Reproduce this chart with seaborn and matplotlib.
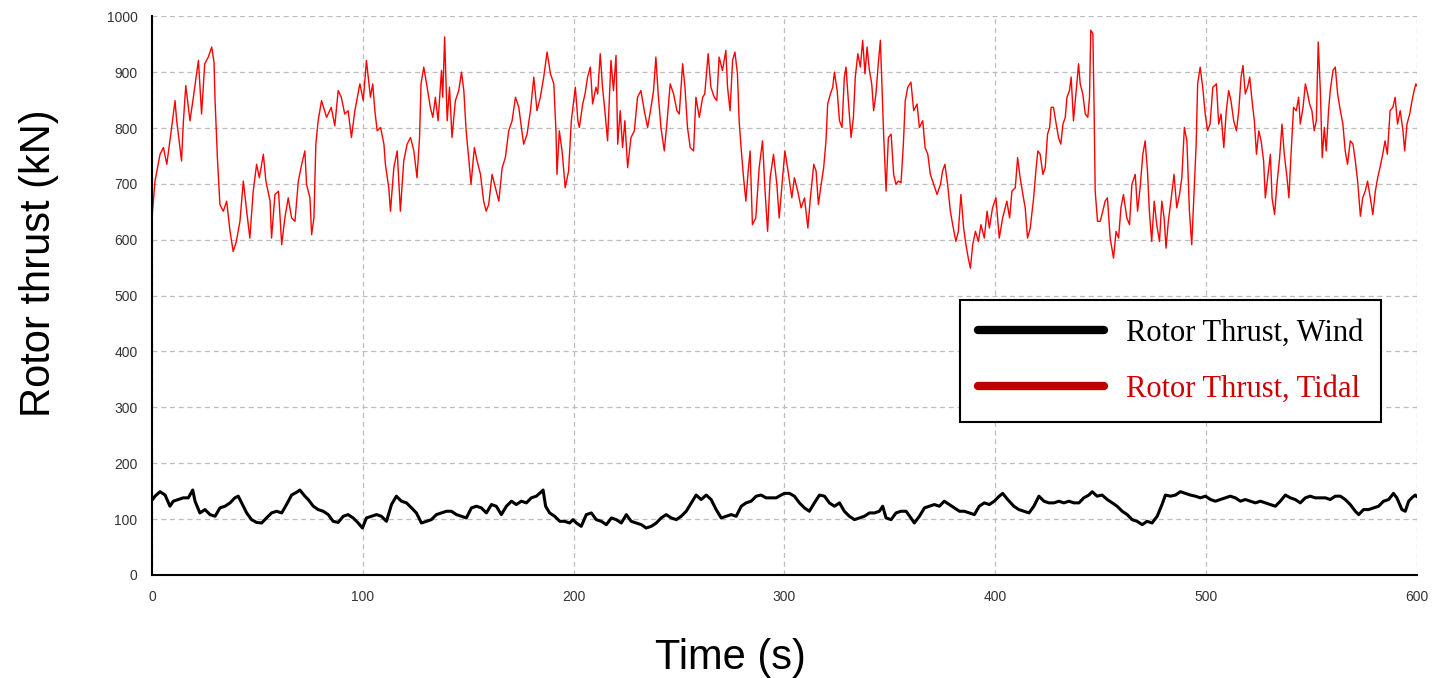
import numpy as np
import pandas as pd
import seaborn as sns
import matplotlib.pyplot as plt
from matplotlib.lines import Line2D

# Valores (tempo em s, empuxo em kN)
tidal_time = [0, 1.4, 3.8, 5.4, 7, 9.3, 10.9, 11.7, 14, 14.8, 16, 18, 19.6, 22, 23.5, 25, 26.7, 28.3, 29.4, 29.9,
              31, 32.2, 33.8, 35.4, 37, 38.5, 40, 41.7, 43.3, 44.9, 46.4, 48, 49.6, 50.9, 52.8, 54, 56, 56.7, 58.3, 60,
              61.5, 63, 64.6, 66.2, 67.8, 69.4, 71, 72.5, 73.3, 74.9, 75.7, 76.8, 77.7, 78.8, 80.4, 82.8, 85, 86.7, 88.3, 89.8,
              91.4, 93, 94.6, 96.2, 98.6, 100.2, 101.7, 103.6, 104.7, 105.7, 106.8, 108.4, 110, 110.7, 112.3, 113.1, 114.7, 116.3, 117.8, 119.4,
              121, 122.6, 124.2, 125.7, 126.9, 127.6, 128.9, 130.5, 132, 133.2, 134.4, 135.7, 137.3, 137.9, 138.8, 140, 141.1, 142.3, 143.9, 145.5,
              146.8, 147.9, 149, 150.2, 151.3, 152.9, 154.2, 155.8, 157.3, 158.5, 159.7, 161.3, 162.9, 164.5, 166.1, 167.6, 169.2, 170.8, 172.4, 174,
              175.2, 176.3, 177.9, 179.5, 181.1, 182.6, 184.2, 185.8, 187.4, 189, 190.6, 191.6, 192.1, 193.2, 194.5, 196, 197.6, 198.9, 200.8, 202,
              202.7, 204.3, 205.4, 206.6, 207.9, 209, 210.6, 211.4, 212.6, 213.7, 214.8, 216.1, 217.7, 218.9, 220.1, 220.9, 222.1, 223.2, 224.3, 225.6,
              227.2, 228.8, 230.3, 231.9, 233.5, 235.1, 236.7, 237.9, 239, 240.1, 241.4, 243, 244.2, 245.8, 247.4, 249, 250.1, 251.7, 252.8, 254,
              255.3, 256.9, 258, 259.6, 261.2, 262.2, 263.8, 265.1, 266.7, 267.9, 269, 270.6, 272.2, 273, 274.2, 275.4, 276.5, 277.7, 278.5, 279.3,
              280.6, 281.7, 282.8, 283.7, 284.8, 286.4, 288, 289.6, 290.8, 292, 293.2, 294.8, 296.4, 297.5, 299.1, 300.2, 301.7, 303.5, 304.7, 306.3,
              307.9, 309.5, 311.1, 312.3, 313.9, 315, 316.1, 317.4, 318.6, 319.7, 320.5, 321.8, 322.9, 323.7, 325, 326.1, 327.3, 328.4, 329.2, 330.3,
              331.6, 332.7, 333.6, 334.8, 336, 337.1, 338.2, 339.2, 340.3, 341.4, 342.3, 343.4, 344.5, 345.5, 346.1, 347.1, 348.2, 349.3, 350.6, 351.8,
              352.9, 354, 355.3, 356.4, 357.3, 358.5, 360, 361.3, 362.9, 364, 365.6, 366.7, 368, 369.2, 370.8, 372.4, 374, 375, 376.1, 377.4,
              378.7, 379.8, 381.3, 382.5, 383.7, 385, 386.1, 387.2, 388.2, 389.3, 390.6, 392, 393.2, 394.8, 396.1, 397.2, 398.7, 400.3, 401.9, 403.5,
              405.5, 406.8, 407.9, 409.5, 410.6, 411.8, 413.1, 414.2, 415.3, 416.6, 418.2, 419.4, 420.2, 421.3, 422.6, 423.7, 424.8, 425.8, 426.5, 427.6,
              428.9, 430, 431.1, 432.1, 433.2, 434, 435.2, 436, 437.1, 438.4, 439.5, 440.3, 441.5, 442.7, 443.9, 444.7, 445.3, 446.3, 446.9, 447.4,
              448.5, 449.8, 451, 452.1, 453.2, 454.5, 456.1, 457.3, 458.5, 459.6, 460.8, 462.4, 463.7, 464.8, 466.4, 467.5, 468.7, 470, 471.1, 472.2,
              473.1, 474.2, 475.4, 476.6, 477.9, 479, 480.1, 481, 482.1, 483.3, 484.8, 486.1, 487.4, 488.5, 489.7, 490.9, 492.1, 493.2, 494.3, 495.3,
              496, 497.2, 498.4, 499.6, 500.7, 501.9, 503.2, 504.9, 506, 507.1, 508.4, 509.6, 510.7, 511.8, 513.1, 514.4, 515.5, 516.6, 517.5, 518.6,
              519.7, 520.7, 521.8, 522.9, 523.9, 525, 526.1, 527.3, 528.1, 529.2, 530.5, 531.3, 532.5, 533.6, 534.9, 536, 537.1, 538.4, 539.3, 540.3,
              541.5, 542.8, 543.9, 544.7, 546, 547.1, 548.2, 549.1, 550.2, 551.3, 552.3, 553.2, 554.2, 555.1, 556.1, 557, 558.1, 558.9, 560.2, 561.3,
              562.4, 563.7, 564.9, 566, 567.1, 568.4, 569.7, 570.8, 571.9, 573.2, 574.3, 575.5, 576.6, 577.9, 579.1, 580.3, 581.4, 582.5, 583.8, 584.9,
              586, 587.3, 588.6, 589.7, 590.8, 592.1, 593.4, 594.2, 595.3, 596.6, 597.7, 598.7, 599.5, 600]
tidal_thrust = [640, 705, 753, 765, 735, 801, 849, 813, 741, 807, 876, 813, 855, 921, 825, 915, 927, 945, 918, 849,
                747, 663, 651, 669, 615, 579, 597, 633, 705, 651, 603, 687, 735, 711, 753, 705, 669, 603, 681, 687,
                591, 639, 675, 639, 633, 705, 735, 759, 699, 675, 609, 639, 771, 813, 849, 819, 837, 804, 867, 855,
                825, 831, 783, 831, 879, 849, 921, 855, 879, 831, 795, 801, 771, 735, 693, 651, 729, 759, 651, 741,
                771, 783, 759, 711, 783, 879, 909, 873, 837, 819, 855, 813, 903, 855, 963, 813, 873, 783, 849, 867,
                900, 867, 795, 747, 699, 765, 741, 717, 669, 651, 663, 717, 693, 669, 729, 747, 795, 813, 855, 837,
                801, 771, 789, 831, 891, 831, 855, 891, 936, 897, 879, 795, 717, 795, 759, 693, 723, 813, 873, 813,
                801, 843, 861, 891, 909, 843, 873, 861, 933, 873, 831, 777, 921, 867, 930, 771, 831, 765, 813, 729,
                783, 795, 855, 867, 831, 801, 837, 867, 927, 861, 801, 759, 807, 879, 861, 831, 825, 915, 873, 801,
                765, 759, 855, 819, 855, 861, 933, 873, 855, 849, 927, 903, 939, 873, 831, 921, 936, 897, 813, 771,
                711, 669, 723, 759, 627, 639, 729, 777, 687, 615, 711, 753, 699, 639, 711, 759, 723, 675, 711, 687,
                657, 675, 621, 675, 735, 723, 663, 699, 729, 777, 843, 861, 873, 900, 867, 813, 801, 891, 909, 849,
                783, 819, 891, 933, 909, 957, 897, 945, 903, 879, 831, 861, 915, 957, 891, 783, 687, 783, 789, 717,
                699, 705, 702, 771, 849, 873, 882, 831, 843, 801, 813, 765, 753, 717, 699, 681, 699, 723, 735, 699,
                651, 627, 597, 615, 681, 621, 591, 567, 549, 591, 615, 597, 627, 603, 651, 621, 657, 675, 603, 639,
                669, 639, 687, 693, 747, 711, 681, 657, 603, 621, 675, 729, 759, 753, 717, 729, 789, 801, 837, 837,
                807, 783, 771, 807, 819, 855, 867, 891, 813, 867, 915, 879, 861, 825, 819, 855, 975, 969, 831, 687,
                633, 633, 651, 669, 675, 603, 567, 615, 603, 657, 681, 639, 627, 699, 717, 651, 693, 753, 777, 723,
                651, 597, 669, 627, 597, 669, 639, 585, 633, 669, 717, 657, 681, 711, 801, 777, 651, 591, 687, 771,
                879, 909, 873, 825, 795, 807, 873, 879, 807, 825, 765, 831, 867, 849, 813, 795, 831, 891, 912, 861,
                873, 891, 849, 813, 753, 795, 777, 741, 675, 711, 753, 675, 645, 699, 747, 807, 753, 711, 675, 753,
                837, 831, 855, 807, 837, 879, 861, 843, 831, 795, 813, 954, 867, 747, 801, 759, 831, 867, 903, 909,
                861, 831, 807, 759, 735, 777, 771, 741, 705, 642, 675, 687, 705, 675, 645, 687, 711, 729, 753, 777,
                753, 831, 837, 855, 807, 831, 795, 759, 807, 825, 849, 867, 879, 875]

wind_time = [0.3, 1.4, 3.8, 6.2, 8.5, 10.1, 12.5, 14.8, 17.2, 19.3, 20.4, 22.7, 25.1, 27.5, 29.9, 32.2, 34.6, 37, 39.3, 40.9,
             42.5, 44.9, 47.2, 49.6, 52, 54.3, 56.7, 59.1, 61.5, 63.8, 66.2, 68.6, 70.1, 72.5, 74.1, 76.5, 78.8, 81.2, 83.6, 85.9,
             88.3, 90.7, 93, 95.4, 97.8, 99.8, 101.7, 104.1, 106.5, 108.8, 111.2, 113.6, 115.9, 118.3, 120.7, 123.1, 125.4, 127.8, 130.2, 132.5,
             134.9, 137.3, 139.6, 142, 144.4, 146.8, 149.1, 151.5, 153.9, 156.2, 158.6, 161, 163.3, 165.7, 168.1, 170.5, 172.8, 175.2, 177.6, 179.9,
             182.3, 184.7, 185.5, 186.7, 188.6, 191, 193.4, 195.7, 198.1, 199.7, 201.3, 203.6, 206, 208.4, 210.7, 213.1, 215.5, 217.9, 220.2, 222.6,
             225, 227.3, 229.7, 232.1, 234.4, 236.8, 239.2, 241.5, 243.9, 246.3, 248.7, 251, 253.4, 255.8, 258.1, 260.5, 262.9, 265.2, 267.6, 270,
             272.4, 274.7, 277.1, 279.5, 281.8, 284.2, 286.6, 288.9, 291.3, 293.7, 296.1, 298.4, 300, 302.4, 304.7, 307.1, 309.5, 311.8, 314.2, 316.6,
             319, 321.3, 323.7, 326.1, 328.4, 330.8, 333.2, 335.5, 337.9, 340.3, 342.7, 345, 346.6, 348.2, 350.6, 352.9, 355.3, 357.7, 360, 361.6,
             364, 366.4, 368.7, 371.1, 373.5, 375.8, 378.2, 380.6, 383, 385.3, 387.7, 390.1, 392.4, 394.8, 397.2, 399.5, 401.9, 403.5, 405.9, 408.8,
             411.2, 413.6, 416, 418.3, 420.7, 423.1, 425.4, 427.8, 430.2, 432.5, 434.9, 437.3, 439.7, 442, 444.4, 446, 448.3, 450.7, 453.1, 455.5,
             457.8, 460.2, 462.6, 464.9, 467.3, 469.7, 472, 474.4, 476.8, 479.1, 480.7, 483.1, 485.5, 487.8, 490.2, 492.6, 494.9, 497.3, 499.7, 502.1,
             504.4, 506.8, 509.2, 511.5, 513.9, 516.3, 518.6, 521, 523.4, 525.8, 528.1, 530.5, 532.9, 535.2, 537.6, 540, 542.3, 544.7, 547.1, 549.4,
             551.8, 554.2, 556.6, 558.9, 561.3, 563.7, 566, 568.4, 570.8, 572.4, 574.7, 577.1, 579.5, 581.8, 584.2, 586.6, 588.9, 590.5, 592.9, 594.5,
             596.1, 597.6, 599.2, 600]
wind_thrust = [135, 141, 149, 143, 123, 132, 135, 138, 138, 152, 132, 111, 117, 108, 105, 120, 123, 129, 138, 141,
               129, 111, 99, 94, 93, 102, 111, 114, 111, 126, 143, 148, 152, 141, 135, 123, 117, 114, 108, 96,
               94, 105, 108, 102, 93, 84, 102, 105, 108, 105, 96, 126, 141, 132, 129, 120, 111, 93, 96, 99,
               108, 111, 114, 114, 108, 105, 102, 120, 123, 120, 111, 126, 123, 108, 123, 132, 126, 132, 129, 138,
               141, 149, 152, 123, 111, 105, 96, 96, 93, 99, 93, 87, 108, 111, 99, 96, 90, 102, 99, 93,
               108, 96, 93, 90, 84, 87, 93, 102, 108, 102, 99, 105, 114, 129, 143, 135, 143, 135, 117, 102,
               105, 108, 105, 123, 129, 132, 141, 143, 138, 138, 138, 143, 146, 146, 141, 129, 120, 114, 129, 143,
               141, 129, 123, 129, 114, 105, 99, 102, 105, 111, 111, 114, 123, 102, 99, 111, 114, 114, 102, 93,
               105, 120, 123, 126, 123, 132, 126, 120, 114, 114, 111, 108, 123, 129, 126, 132, 141, 146, 135, 123,
               117, 114, 111, 123, 141, 132, 129, 129, 132, 129, 132, 129, 129, 138, 143, 149, 141, 143, 135, 129,
               123, 114, 108, 99, 96, 90, 96, 93, 105, 126, 143, 141, 143, 149, 146, 143, 141, 138, 141, 135,
               132, 135, 138, 141, 138, 132, 135, 132, 129, 132, 129, 126, 123, 132, 143, 138, 135, 129, 138, 141,
               138, 138, 138, 135, 141, 141, 135, 126, 114, 108, 117, 117, 120, 123, 132, 135, 146, 138, 117, 114,
               132, 138, 143, 140]

x_ticks = [0, 100, 200, 300, 400, 500, 600]
y_ticks = [0, 100, 200, 300, 400, 500, 600, 700, 800, 900, 1000]

wind = pd.DataFrame({'Time': wind_time, 'Thrust': wind_thrust})
tidal = pd.DataFrame({'Time': tidal_time, 'Thrust': tidal_thrust})

sns.set_theme(style='white')
plt.rcParams['font.family'] = ['Liberation Sans', 'DejaVu Sans']

fig, ax = plt.subplots(figsize=(14.37, 6.78), dpi=100)
fig.subplots_adjust(left=0.1058, right=0.986, top=0.976, bottom=0.152)

# Linhas das duas series
sns.lineplot(data=tidal, x='Time', y='Thrust', color='#ff0000', linewidth=1.0,
             estimator=None, sort=False, ax=ax)
sns.lineplot(data=wind, x='Time', y='Thrust', color='black', linewidth=2.2,
             estimator=None, sort=False, ax=ax)

ax.set_xlim(0, 600)
ax.set_ylim(0, 1000)
ax.set_xticks(x_ticks)
ax.set_yticks(y_ticks)
ax.grid(True, linestyle=(0, (4, 3)), color='#bdbdbd', linewidth=0.9)

for lado in ['top', 'right']:
    ax.spines[lado].set_visible(False)
for lado in ['left', 'bottom']:
    ax.spines[lado].set_color('black')
    ax.spines[lado].set_linewidth(1.5)

ax.tick_params(direction='out', length=7, width=1, color='#444444',
               labelsize=10, labelcolor='#333333')

# Rotulos dos eixos (um pouco deslocados do centro, como no original)
ax.set_xlabel('Time (s)', fontsize=30, labelpad=25, color='black')
ax.xaxis.label.set_x(0.457)
ax.set_ylabel('Rotor thrust (kN)', fontsize=30, labelpad=34, color='black')
ax.yaxis.label.set_y(0.558)

# Legenda
handles = [Line2D([0], [0], color='black', linewidth=6),
           Line2D([0], [0], color='#c00000', linewidth=6)]
leg = ax.legend(handles, ['Rotor Thrust, Wind', 'Rotor Thrust, Tidal'],
                loc='upper left', bbox_to_anchor=(0.6387, 0.4919), borderaxespad=0,
                prop={'family': 'Liberation Serif', 'size': 22},
                frameon=True, fancybox=False, edgecolor='black', framealpha=1,
                handlelength=4.1, handletextpad=0.72, borderpad=0.6, labelspacing=0.89)
leg.get_frame().set_linewidth(1.5)
leg.get_texts()[0].set_color('black')
leg.get_texts()[1].set_color('#cc0000')

fig.savefig('out.png', dpi=100)
